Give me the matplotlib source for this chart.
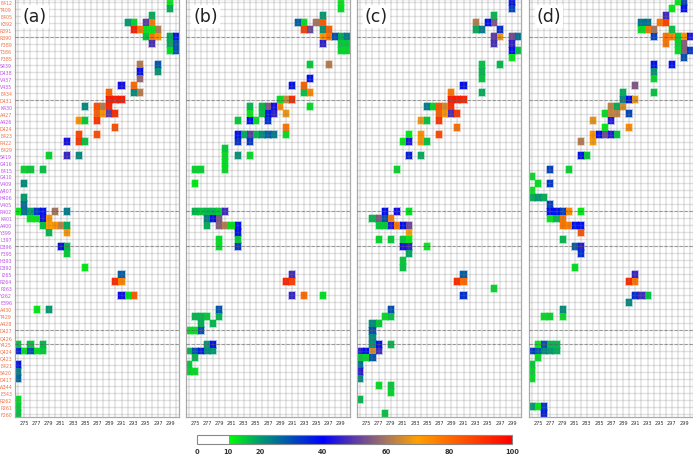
import numpy as np
import matplotlib
matplotlib.use("Agg")
import matplotlib.pyplot as plt
from matplotlib.colors import LinearSegmentedColormap

residues = ["E412", "T409", "E405", "K392", "R391", "R390", "F389", "T386", "F385",
            "S439", "D438", "V437", "V435", "E434", "D431", "K430", "A427", "A426",
            "D424", "E423", "R422", "E429", "S419", "G416", "E415", "G410", "V409",
            "W407", "H406", "V405", "R402", "K401", "A400", "Y399", "L397", "D396",
            "F395", "H393", "D392", "I265", "R264", "P263", "Y262", "E396", "A430",
            "T429", "A428", "D427", "Q426", "Y425", "Q424", "Q423", "E421", "S420",
            "D417", "W344", "E343", "R262", "P261", "F260"]
purple_rows = list(range(9, 13)) + [15, 17] + list(range(22, 44))
columns = np.arange(274, 301)
x_ticks = np.arange(275, 300, 2)
bar_ticks = [0, 10, 20, 40, 60, 80, 100]
dark_rows = [5, 14, 30, 35, 47, 49]

cells_a = {
    "E412": {299: 12}, "T409": {299: 18}, "E405": {296: 18},
    "K392": {292: 20, 293: 14, 295: 50, 296: 77},
    "R391": {293: 95, 294: 78, 295: 12, 296: 12, 297: 62},
    "R390": {295: 16, 296: 78, 297: 72, 299: 18, 300: 38},
    "F389": {296: 48, 299: 18, 300: 30}, "T386": {299: 13, 300: 30},
    "S439": {294: 62, 297: 29}, "D438": {294: 38, 297: 21}, "V437": {294: 58},
    "V435": {291: 42, 293: 80}, "E434": {289: 82, 293: 22, 294: 62},
    "D431": {289: 95, 290: 95, 291: 95},
    "K430": {285: 22, 287: 85, 288: 62, 289: 93},
    "A427": {287: 82, 288: 72, 289: 50, 290: 92},
    "A426": {284: 72, 285: 15, 287: 90}, "D424": {290: 85},
    "E423": {284: 87, 287: 85}, "R422": {282: 42, 284: 90, 285: 16},
    "S419": {279: 14, 282: 46, 284: 22}, "E415": {275: 14, 276: 15, 278: 16},
    "V409": {275: 22}, "H406": {275: 20}, "V405": {275: 26},
    "R402": {274: 12, 275: 26, 276: 19, 277: 33, 278: 38, 280: 60, 282: 24},
    "K401": {276: 12, 277: 12, 278: 42, 279: 72},
    "A400": {278: 16, 279: 70, 280: 72, 281: 63, 282: 18},
    "Y399": {279: 17, 282: 72}, "D396": {281: 38, 282: 17}, "F395": {282: 15},
    "D392": {285: 12}, "I265": {291: 28}, "R264": {290: 92, 291: 75},
    "Y262": {291: 42, 292: 13, 293: 83}, "A430": {277: 12, 279: 20},
    "Y425": {274: 16, 276: 16, 278: 17},
    "Q424": {274: 36, 275: 13, 276: 30, 277: 13, 278: 15},
    "E421": {274: 38}, "S420": {274: 24}, "D417": {274: 27},
    "R262": {274: 13}, "P261": {274: 15}, "F260": {274: 16},
}

cells_b = {
    "E412": {299: 12}, "T409": {299: 13}, "E405": {296: 20},
    "K392": {292: 28, 293: 13, 295: 60, 296: 83},
    "R391": {293: 88, 294: 52, 296: 21, 297: 82},
    "R390": {296: 72, 297: 78, 298: 30, 299: 18, 300: 24},
    "F389": {296: 45, 299: 15, 300: 15}, "T386": {299: 14, 300: 14},
    "S439": {294: 15, 297: 62}, "V437": {294: 38}, "V435": {291: 38, 293: 82},
    "E434": {293: 16, 294: 75}, "D431": {289: 13, 290: 65, 291: 92},
    "K430": {284: 17, 286: 17, 287: 55, 288: 42, 289: 73, 294: 13},
    "A427": {284: 12, 286: 16, 287: 38, 288: 45, 290: 68},
    "A426": {282: 15, 284: 38, 285: 13, 287: 34}, "D424": {290: 78},
    "E423": {282: 38, 283: 18, 284: 50, 285: 17, 286: 22, 287: 28, 288: 24, 290: 13},
    "R422": {282: 34, 284: 33}, "E429": {280: 15},
    "S419": {280: 13, 282: 21, 284: 13}, "G416": {280: 13},
    "E415": {275: 14, 276: 14, 280: 13}, "V409": {275: 12},
    "R402": {275: 17, 276: 16, 277: 17, 278: 17, 279: 15, 280: 47},
    "K401": {277: 24, 278: 38, 279: 55},
    "A400": {277: 18, 279: 56, 280: 62, 281: 13, 282: 38},
    "Y399": {282: 38}, "L397": {279: 13, 282: 15}, "D396": {279: 13, 282: 33},
    "I265": {291: 47}, "R264": {290: 93, 291: 88},
    "Y262": {291: 46, 293: 80, 296: 13}, "A430": {279: 29},
    "T429": {275: 17, 276: 17, 277: 15, 279: 17}, "A428": {276: 18, 278: 17},
    "D427": {274: 13, 275: 13, 276: 30}, "Y425": {277: 20, 278: 38},
    "Q424": {274: 17, 275: 30, 276: 36, 277: 22, 278: 20}, "Q423": {275: 17},
    "E421": {274: 15}, "S420": {274: 14, 275: 13},
}

cells_c = {
    "E412": {299: 38}, "T409": {299: 32}, "E405": {296: 17},
    "K392": {293: 62, 295: 38, 296: 55}, "R391": {293: 18, 294: 24, 297: 34},
    "R390": {296: 50, 297: 68, 299: 53, 300: 25}, "F389": {296: 48, 299: 45},
    "T386": {299: 38, 300: 16}, "F385": {299: 12}, "S439": {294: 16, 297: 17},
    "D438": {294: 17}, "V437": {294: 16}, "V435": {291: 38},
    "E434": {289: 78, 294: 18}, "D431": {289: 95, 290: 95, 291: 93},
    "K430": {285: 24, 286: 14, 287: 84, 288: 65, 289: 92},
    "A427": {287: 82, 288: 72, 289: 48, 290: 90},
    "A426": {284: 68, 285: 16, 287: 90}, "D424": {290: 80},
    "E423": {282: 12, 284: 72, 287: 86},
    "R422": {281: 12, 282: 43, 284: 72, 285: 16},
    "S419": {282: 36, 284: 18}, "E415": {280: 14},
    "R402": {278: 38, 280: 42, 282: 13},
    "K401": {276: 17, 277: 55, 278: 30, 279: 76},
    "A400": {277: 15, 278: 15, 279: 44, 280: 78, 281: 38, 282: 52},
    "Y399": {282: 70}, "L397": {277: 14, 279: 15, 281: 15, 282: 12},
    "D396": {281: 42, 282: 45, 285: 12}, "F395": {282: 19},
    "H393": {281: 15}, "D392": {281: 16}, "I265": {291: 28},
    "R264": {290: 92, 291: 80}, "P263": {296: 14}, "Y262": {291: 34},
    "A430": {279: 30}, "T429": {278: 13, 279: 16}, "A428": {276: 22, 277: 15},
    "D427": {276: 30}, "Q426": {276: 22}, "Y425": {276: 21, 277: 38, 279: 17},
    "Q424": {274: 44, 275: 38, 276: 65, 277: 47},
    "Q423": {274: 15, 275: 14, 276: 29}, "E421": {274: 26}, "S420": {274: 44},
    "D417": {274: 22}, "W344": {277: 13, 279: 15}, "E343": {279: 14},
    "R262": {274: 17}, "F260": {278: 16},
}

cells_d = {
    "E412": {298: 12, 299: 32}, "T409": {297: 12, 299: 38}, "E405": {296: 47},
    "K392": {292: 25, 293: 25, 295: 78, 296: 88},
    "R391": {292: 13, 293: 78, 294: 60, 297: 16},
    "R390": {294: 32, 296: 78, 297: 75, 298: 15, 299: 72, 300: 43},
    "F389": {296: 78, 298: 14, 299: 56}, "T386": {298: 13, 299: 56, 300: 33},
    "F385": {299: 30}, "S439": {294: 38, 297: 38}, "D438": {294: 21},
    "V437": {294: 14}, "V435": {291: 55}, "E434": {289: 18, 294: 16},
    "D431": {289: 22, 290: 38, 291: 68}, "K430": {287: 63, 288: 18, 289: 66},
    "A427": {286: 13, 287: 64, 288: 63, 290: 31}, "A426": {284: 67, 287: 44},
    "D424": {286: 12, 290: 74},
    "E423": {284: 72, 285: 38, 286: 53, 287: 44, 288: 16},
    "R422": {282: 62, 284: 71}, "S419": {282: 38, 283: 15},
    "E415": {277: 32, 280: 14}, "G410": {274: 13}, "V409": {275: 13, 277: 33},
    "W407": {274: 12}, "H406": {274: 18, 275: 20, 276: 18}, "V405": {277: 32},
    "R402": {277: 38, 278: 38, 279: 32, 280: 74, 282: 12},
    "K401": {277: 12, 278: 17, 279: 78},
    "A400": {279: 78, 280: 76, 281: 38, 282: 38}, "Y399": {282: 84},
    "L397": {279: 17}, "D396": {281: 28, 282: 44}, "F395": {282: 34},
    "D392": {281: 13}, "I265": {291: 46}, "R264": {290: 92, 291: 78},
    "Y262": {291: 34, 292: 47, 293: 16}, "E396": {290: 22}, "A430": {279: 22},
    "T429": {276: 13, 277: 14, 279: 13},
    "Y425": {275: 12, 276: 30, 277: 17, 278: 17},
    "Q424": {274: 33, 275: 28, 276: 22, 277: 20, 278: 18}, "Q423": {275: 13},
    "E421": {274: 15}, "S420": {274: 14}, "D417": {274: 13},
    "P261": {274: 20, 275: 12, 276: 33}, "F260": {276: 36},
}

panels = [("(a)", cells_a, 15.3), ("(b)", cells_b, 186.0),
          ("(c)", cells_c, 357.3), ("(d)", cells_d, 529.2)]

W, H = 693.0, 456.0
cell_w = 6.07
top_px, bot_px = 0.0, 417.6

# white under 10, then the green -> blue -> orange -> red ramp
cmap = LinearSegmentedColormap.from_list("occ", [
    (0.0, "#ffffff"), (0.0999, "#ffffff"), (0.1, "#00ff00"),
    (0.2, "#009a70"), (0.4, "#0000ff"), (0.5, "#5a3aa8"),
    (0.6, "#a57560"), (0.7, "#ffa000"), (1.0, "#ff0000")])

fig = plt.figure(figsize=(W / 100, H / 100), dpi=100)
row_y = np.arange(len(residues))

for letter, cells, left in panels:
    ax = fig.add_axes([left / W, 1 - bot_px / H, 27 * cell_w / W, (bot_px - top_px) / H])
    grid = np.full((len(residues), len(columns)), np.nan)
    for res, vals in cells.items():
        for col, v in vals.items():
            grid[residues.index(res), col - 274] = v
    x_edges = np.arange(273.5, 301)
    y_edges = np.arange(-0.5, 60)
    # soft halo first, the antialiased reference has one round every cell
    ax.pcolormesh(x_edges, y_edges, grid, cmap=cmap, vmin=0, vmax=100,
                  edgecolors="face", linewidth=1.4, alpha=0.3, zorder=1)
    ax.pcolormesh(x_edges, y_edges, grid, cmap=cmap, vmin=0, vmax=100, zorder=2)
    for c in columns:
        ax.axvline(c, color="#777777", lw=1.1, alpha=0.22, zorder=3)
    for r in row_y:
        ax.axhline(r, color="#777777", lw=1.0, alpha=0.22, zorder=3)
    for r in dark_rows:
        ax.axhline(r, color="#555555", lw=0.6, ls=(0, (4, 2)), alpha=0.6, zorder=3)
    ax.set_xlim(273.5, 300.5)
    ax.set_ylim(59.4, -0.43)
    ax.set_xticks(x_ticks)
    ax.set_xticklabels([str(t) for t in x_ticks], fontsize=3.6, color="#333333")
    ax.tick_params(axis="x", length=0, pad=2.5)
    if letter == "(a)":
        ax.set_yticks(row_y)
        ax.set_yticklabels(residues, fontsize=3.4)
        ax.tick_params(axis="y", length=0, pad=2.2)
        for r, lab in enumerate(ax.get_yticklabels()):
            lab.set_color("#c050e8" if r in purple_rows else "#f07048")
    else:
        ax.set_yticks([])
    for s in ax.spines.values():
        s.set_color("#aaaaaa")
        s.set_linewidth(0.9)
    fig.text((left + 7.5) / W, 1 - 17.5 / H, letter, fontsize=12.5, color="#222222",
             ha="left", va="center", zorder=5,
             bbox=dict(facecolor="white", edgecolor="none", pad=1.5))

cax = fig.add_axes([196.7 / W, 1 - 445.0 / H, 315.3 / W, 9.3 / H])
sm = plt.cm.ScalarMappable(cmap=cmap, norm=plt.Normalize(0, 100))
cbar = fig.colorbar(sm, cax=cax, orientation="horizontal", ticks=bar_ticks)
cbar.ax.tick_params(length=0, pad=3.0, labelsize=4.8, labelcolor="#333333")
for lab in cbar.ax.get_xticklabels():
    lab.set_fontweight("bold")
cbar.outline.set_edgecolor("#888888")
cbar.outline.set_linewidth(0.8)

fig.savefig("out.png", dpi=100)
